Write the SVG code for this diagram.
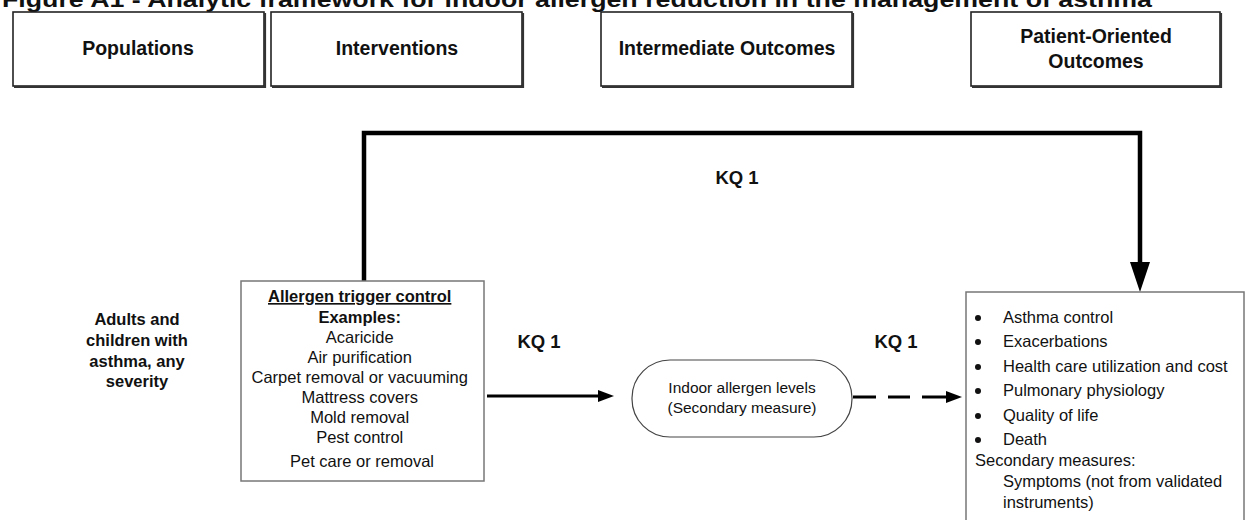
<svg xmlns="http://www.w3.org/2000/svg" width="1248" height="520" viewBox="0 0 1248 520">
<defs>
<style>
.t{font-family:"Liberation Sans",Arial,sans-serif;fill:#111;}
.b{font-weight:bold;}
.hdr{fill:#fff;stroke:#222;stroke-width:1.6;}
.sh{fill:none;stroke:#333;stroke-width:2.2;}
.box{fill:#fff;stroke:#777;stroke-width:1.5;}
.conn{fill:none;stroke:#000;}
.head{fill:#000;}
</style>
</defs>
<rect width="1248" height="520" fill="#fff"/>
<text class="t b" x="2" y="7" font-size="22" textLength="1150" lengthAdjust="spacingAndGlyphs">Figure A1 - Analytic framework for indoor allergen reduction in the management of asthma</text>

<g id="hdr-populations">
<rect class="hdr" x="13" y="12" width="251" height="74"/>
<path class="sh" d="M14,87 H265 V13"/>
<text class="t b" x="138" y="55" font-size="19.5" text-anchor="middle">Populations</text>
</g>
<g id="hdr-interventions">
<rect class="hdr" x="271" y="12" width="251" height="74"/>
<path class="sh" d="M272,87 H523 V13"/>
<text class="t b" x="397" y="55" font-size="19.5" text-anchor="middle">Interventions</text>
</g>
<g id="hdr-intermediate">
<rect class="hdr" x="601" y="12" width="251" height="74"/>
<path class="sh" d="M602,87 H853 V13"/>
<text class="t b" x="727" y="55" font-size="19.5" text-anchor="middle">Intermediate Outcomes</text>
</g>
<g id="hdr-patient">
<rect class="hdr" x="971" y="12" width="249" height="74"/>
<path class="sh" d="M972,87 H1221 V13"/>
<text class="t b" x="1096" y="43" font-size="19.5" text-anchor="middle">Patient-Oriented</text>
<text class="t b" x="1096" y="68" font-size="19.5" text-anchor="middle">Outcomes</text>
</g>

<g id="connectors">
<path class="conn" d="M364,281 V133 H1140 V264" stroke-width="4.5" stroke-linejoin="miter"/>
<polygon class="head" points="1130,262 1150,262 1140,292"/>
<path class="conn" d="M487,396 H600" stroke-width="3"/>
<polygon class="head" points="598,390 614,396 598,402"/>
<path class="conn" d="M853,397 H876 M888,397 H910 M922,397 H948" stroke-width="3"/>
<polygon class="head" points="946,391 962,397 946,403"/>
<text class="t b" x="737" y="184" font-size="18.5" text-anchor="middle">KQ 1</text>
<text class="t b" x="539" y="348" font-size="18.5" text-anchor="middle">KQ 1</text>
<text class="t b" x="896" y="348" font-size="18.5" text-anchor="middle">KQ 1</text>
</g>

<g id="populations">
<text class="t b" font-size="16.5" text-anchor="middle"><tspan x="137" y="325">Adults and</tspan><tspan x="137" y="346">children with</tspan><tspan x="137" y="367">asthma, any</tspan><tspan x="137" y="387">severity</tspan></text>
</g>

<g id="interventions">
<rect class="box" x="241" y="281" width="243" height="200"/>
<text class="t" font-size="16.5" text-anchor="middle">
<tspan x="362" y="302" font-weight="bold" text-decoration="underline">Allergen trigger control</tspan>
<tspan x="362" y="323" font-weight="bold">Examples:</tspan>
<tspan x="362" y="343">Acaricide</tspan>
<tspan x="362" y="363">Air purification</tspan>
<tspan x="362" y="383">Carpet removal or vacuuming</tspan>
<tspan x="362" y="403">Mattress covers</tspan>
<tspan x="362" y="423">Mold removal</tspan>
<tspan x="362" y="443">Pest control</tspan>
<tspan x="362" y="467">Pet care or removal</tspan>
</text>
</g>

<g id="intermediate">
<rect x="632" y="360" width="220" height="77" rx="38" ry="38" fill="#fff" stroke="#444" stroke-width="1.2"/>
<text class="t" font-size="15.5" text-anchor="middle"><tspan x="742" y="393">Indoor allergen levels</tspan><tspan x="742" y="413">(Secondary measure)</tspan></text>
</g>

<g id="outcomes">
<rect class="box" x="966" y="292" width="278" height="240"/>
<g fill="#111">
<circle cx="978" cy="318" r="3"/>
<circle cx="978" cy="342" r="3"/>
<circle cx="978" cy="367" r="3"/>
<circle cx="978" cy="391" r="3"/>
<circle cx="978" cy="416" r="3"/>
<circle cx="978" cy="440" r="3"/>
</g>
<text class="t" font-size="16.5">
<tspan x="1003" y="323">Asthma control</tspan>
<tspan x="1003" y="347">Exacerbations</tspan>
<tspan x="1003" y="372">Health care utilization and cost</tspan>
<tspan x="1003" y="396">Pulmonary physiology</tspan>
<tspan x="1003" y="421">Quality of life</tspan>
<tspan x="1003" y="445">Death</tspan>
<tspan x="975" y="466">Secondary measures:</tspan>
<tspan x="1003" y="487">Symptoms (not from validated</tspan>
<tspan x="1003" y="508">instruments)</tspan>
</text>
</g>
</svg>
